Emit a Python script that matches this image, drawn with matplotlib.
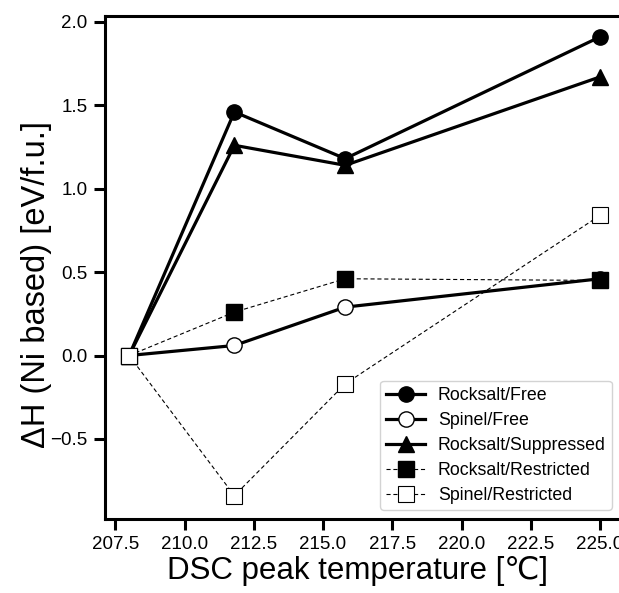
import matplotlib
matplotlib.use("Agg")
import matplotlib.pyplot as plt

plt.rcParams['font.family'] = ['Liberation Sans', 'DejaVu Sans']

temps = [208.0, 211.8, 215.8, 225.0]
rocksalt_free = [0.0, 1.46, 1.18, 1.91]
spinel_free = [0.0, 0.06, 0.29, 0.46]
rocksalt_suppressed = [0.0, 1.26, 1.14, 1.67]
rocksalt_restricted = [0.0, 0.26, 0.46, 0.45]
spinel_restricted = [0.0, -0.84, -0.17, 0.84]
xticks = [207.5, 210.0, 212.5, 215.0, 217.5, 220.0, 222.5, 225.0]
yticks = [-0.5, 0.0, 0.5, 1.0, 1.5, 2.0]

W, H = 619, 593
fig = plt.figure(figsize=(W/100, H/100), dpi=100)
ax_l, ax_r, ax_b, ax_t = 105, 625, 519, 16
ax = fig.add_axes([ax_l/W, 1-ax_b/H, (ax_r-ax_l)/W, (ax_b-ax_t)/H])

ms = 11
dash = (0, (3.7, 2.5))
ax.plot(temps, rocksalt_free, '-', color='black', lw=2.3, marker='o', ms=ms,
        mfc='black', mec='black', label='Rocksalt/Free', zorder=3)
ax.plot(temps, spinel_free, '-', color='black', lw=2.3, marker='o', ms=ms,
        mfc='white', mec='black', mew=1.0, label='Spinel/Free', zorder=3)
ax.plot(temps, rocksalt_suppressed, '-', color='black', lw=2.3, marker='^', ms=ms,
        mfc='black', mec='black', label='Rocksalt/Suppressed', zorder=3)
ax.plot(temps, rocksalt_restricted, linestyle=dash, color='black', lw=0.8, marker='s', ms=ms,
        mfc='black', mec='black', label='Rocksalt/Restricted', zorder=3)
ax.plot(temps, spinel_restricted, linestyle=dash, color='black', lw=0.8, marker='s', ms=ms,
        mfc='white', mec='black', mew=0.8, label='Spinel/Restricted', zorder=3)

ax.set_xlim(207.13, 225.9)
ax.set_ylim(-0.98, 2.035)
ax.set_xticks(xticks)
ax.set_xticklabels([f"{t:.1f}" for t in xticks])
ax.set_yticks(yticks)
ax.set_yticklabels([f"{t:.1f}".replace('-', '\u2212') for t in yticks])
ax.tick_params(direction='out', length=8, width=2.2, labelsize=13.5, pad=4.5)
for s in ax.spines.values():
    s.set_linewidth(2.2)

aw, ah = ax_r - ax_l, ax_b - ax_t
ax.set_xlabel('DSC peak temperature [\u2103]', fontsize=22.5)
ax.xaxis.set_label_coords((357.5-ax_l)/aw, (ax_b-556)/ah)
ax.set_ylabel('\u0394H (Ni based) [eV/f.u.]', fontsize=23.5)
ax.yaxis.set_label_coords((52-ax_l)/aw, (ax_b-285)/ah)

leg = ax.legend(loc='lower right', fontsize=12.8, frameon=True, fancybox=True,
                edgecolor='#c8c8c8', handlelength=2.2, handletextpad=0.7,
                borderpad=0.35, labelspacing=0.45, borderaxespad=0,
                bbox_to_anchor=((612-ax_l)/aw, (ax_b-510)/ah))
leg.get_frame().set_linewidth(1.0)

fig.savefig('out.png', dpi=100)
